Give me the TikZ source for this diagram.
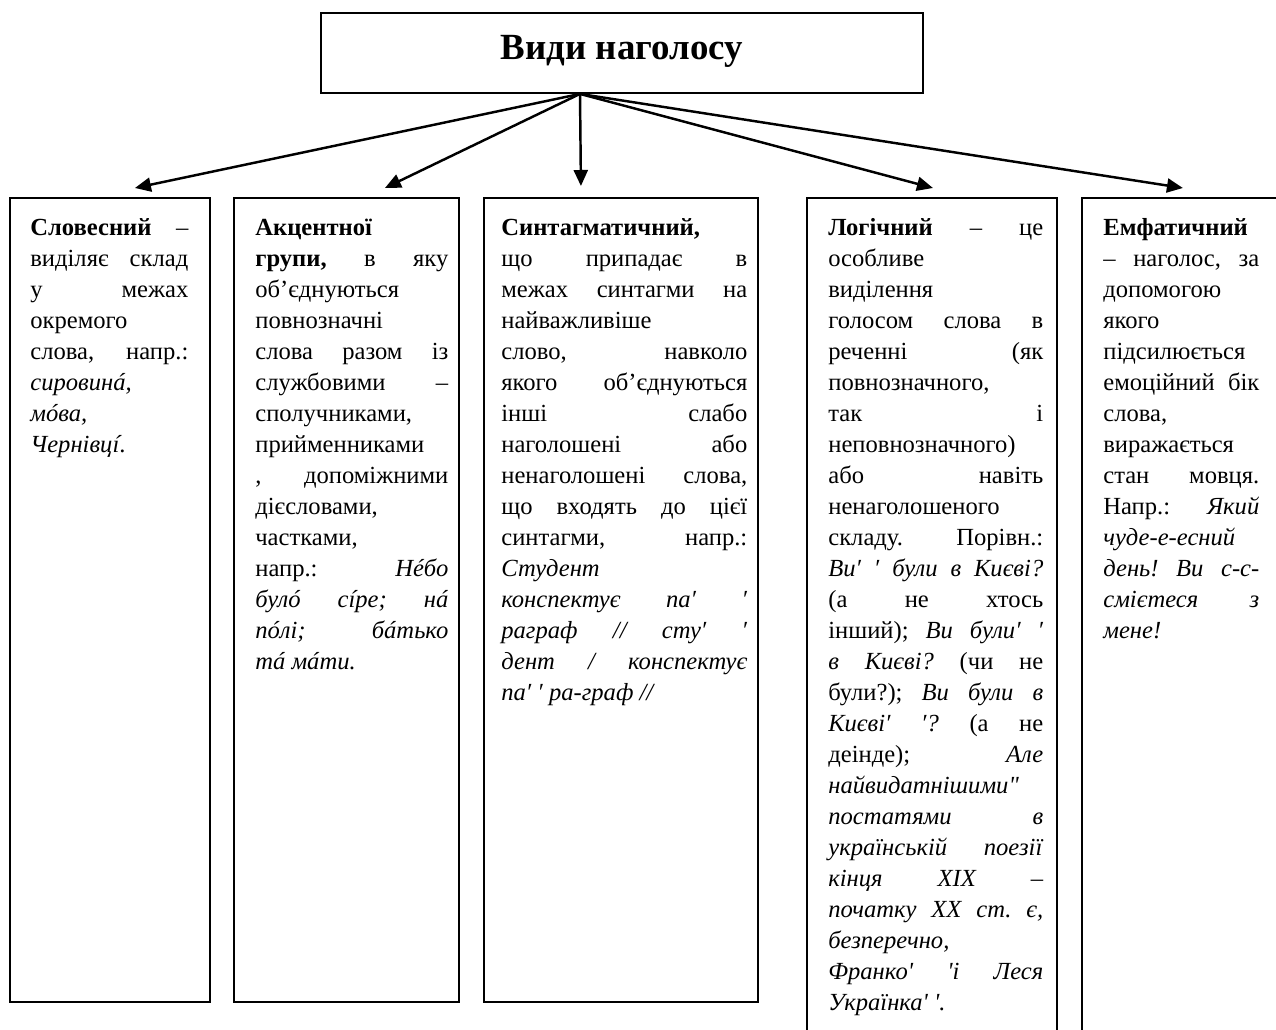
\documentclass[tikz,border=0pt]{standalone}
\usepackage{fontspec}
\newfontfamily\lib{Liberation Serif}
\usetikzlibrary{arrows.meta,calc}
% column text is set line by line: \jst stretches the spaces to the full
% column width, \lft leaves the line flush left
\newlength\colw
\newcommand\jst[1]{\hbox to\colw{#1}}
\newcommand\lft[1]{\hbox to\colw{#1\hfil}}
% stress mark over an italic letter
\newcommand\ac[1]{\ooalign{#1\cr\hidewidth\kern0.12em\char"00B4\hidewidth\cr}}
\begin{document}
\begin{tikzpicture}[x=0.02cm,y=-0.02cm,
  box/.style={draw, line width=1.1pt, inner sep=0pt, anchor=north west},
  txt/.style={inner sep=0pt, anchor=base west,
    font=\lib\fontsize{14pt}{0.62cm}\selectfont\frenchspacing},
  arr/.style={line width=1.4pt, -{Triangle[length=0.32cm,width=0.28cm]}}]
\useasboundingbox (0,0) rectangle (1276,1030);
\clip (0,0) rectangle (1276,1030);

% heading
\node[box, minimum width=12.04cm, minimum height=1.6cm] (title) at (320,12) {};
\node[font=\lib\fontsize{21pt}{25pt}\selectfont\bfseries, inner sep=0pt]
  (titletext) at ($(title.center)+(0,-2)$) {Види наголосу};

% the five kinds of stress
\node[box, minimum width=4.00cm, minimum height=16.08cm] (b1) at (9,197) {};
\node[box, minimum width=4.50cm, minimum height=16.08cm] (b2) at (233,197) {};
\node[box, minimum width=5.48cm, minimum height=16.08cm] (b3) at (483,197) {};
\node[box, minimum width=5.00cm, minimum height=17.00cm] (b4) at (806,197) {};
\node[box, minimum width=3.90cm, minimum height=17.00cm] (b5) at (1081,197) {};

% arrows
\coordinate (hub) at ($(title.south west)+(260,0)$);
\coordinate (e1) at ($(b1.north)+(25,-9)$);
\coordinate (e2) at ($(b2.north)+(38.5,-9)$);
\coordinate (e3) at ($(b3.north)+(-40,-11)$);
\coordinate (e4) at ($(b4.north)+(1,-9)$);
\coordinate (e5) at ($(b5.north)+(3.5,-9)$);
\foreach \e in {e1,e2,e3,e4,e5} \draw[arr] (hub) -- (\e);

% column texts
\node[txt] (t1) at (30,236) {\vtop{\colw=3.16cm
  \jst{\textbf{Словесний} –}
  \jst{виділяє склад}
  \jst{у межах}
  \lft{окремого}
  \jst{слова, напр.:}
  \lft{\textit{сировин\ac{а},}}
  \lft{\textit{м\ac{о}ва,}}
  \lft{\textit{Чернівц\ac{ı}}.}}};

\node[txt] (t2) at (255,236) {\vtop{\colw=3.86cm
  \lft{\textbf{Акцентної}}
  \jst{\textbf{групи,} в яку}
  \lft{об’єднуються}
  \lft{повнозначні}
  \jst{слова разом із}
  \jst{службовими –}
  \lft{сполучниками,}
  \lft{прийменниками}
  \jst{, допоміжними}
  \lft{дієсловами,}
  \lft{частками,}
  \jst{напр.: \textit{Н\ac{е}бо}}
  \jst{\textit{бул\ac{о} с\ac{ı}ре; н\ac{а}}}
  \jst{\textit{п\ac{о}лі; б\ac{а}тько}}
  \lft{\textit{т\ac{а} м\ac{а}ти.}}}};

\node[txt] (t3) at (501,236) {\vtop{\colw=4.92cm
  \lft{\textbf{Синтагматичний,}}
  \jst{що припадає в}
  \jst{межах синтагми на}
  \lft{найважливіше}
  \jst{слово, навколо}
  \jst{якого об’єднуються}
  \jst{інші слабо}
  \jst{наголошені або}
  \jst{ненаголошені слова,}
  \jst{що входять до цієї}
  \jst{синтагми, напр.:}
  \lft{\textit{Студент}}
  \jst{\textit{конспектує па′ ′}}
  \jst{\textit{раграф // сту′ ′}}
  \jst{\textit{дент / конспектує}}
  \lft{\textit{па′ ′ ра-граф //}}}};

\node[txt] (t4) at (828,236) {\vtop{\colw=4.30cm
  \jst{\textbf{Логічний} – це}
  \lft{особливе}
  \lft{виділення}
  \jst{голосом слова в}
  \jst{реченні (як}
  \lft{повнозначного,}
  \jst{так і}
  \lft{неповнозначного)}
  \jst{або навіть}
  \lft{ненаголошеного}
  \jst{складу. Порівн.:}
  \jst{\textit{Ви′ ′ були в Києві?}}
  \jst{(а не хтось}
  \jst{інший); \textit{Ви були′ ′}}
  \jst{\textit{в Києві?} (чи не}
  \jst{були?); \textit{Ви були в}}
  \jst{\textit{Києві′ ′?} (а не}
  \jst{деінде); \textit{Але}}
  \lft{\textit{найвидатнішими"}}
  \jst{\textit{постатями в}}
  \jst{\textit{українській поезії}}
  \jst{\textit{кінця XIX –}}
  \jst{\textit{початку XX ст. є,}}
  \lft{\textit{безперечно,}}
  \jst{\textit{Франко' 'і Леся}}
  \lft{\textit{Українка' '.}}}};

\node[txt] (t5) at (1103,236) {\vtop{\colw=3.12cm
  \lft{\textbf{Емфатичний}}
  \jst{– наголос, за}
  \lft{допомогою}
  \lft{якого}
  \lft{підсилюється}
  \jst{емоційний бік}
  \lft{слова,}
  \lft{виражається}
  \jst{стан мовця.}
  \jst{Напр.: \textit{Який}}
  \lft{\textit{чуде-е-есний}}
  \jst{\textit{день! Ви с-с-}}
  \jst{\textit{смієтеся з}}
  \lft{\textit{мене!}}}};
\end{tikzpicture}
\end{document}
